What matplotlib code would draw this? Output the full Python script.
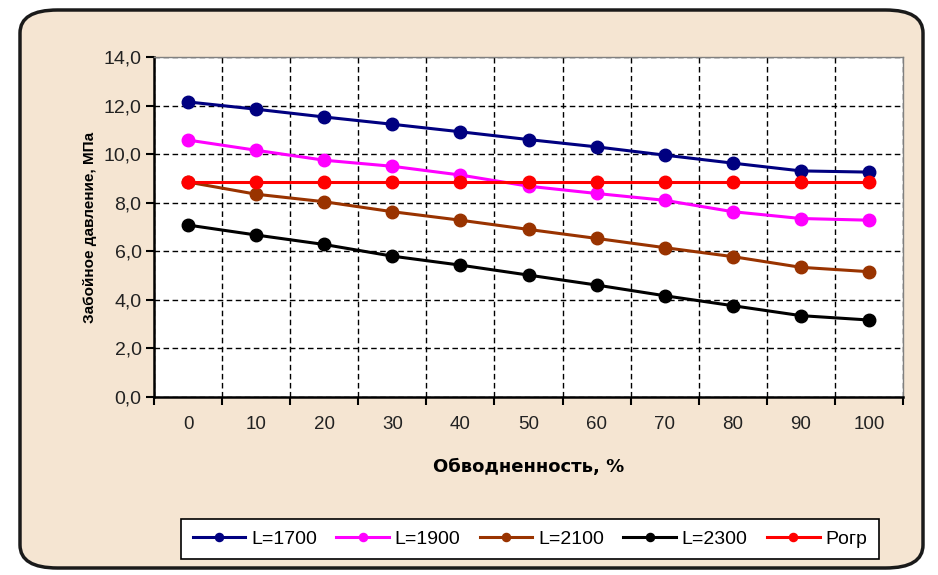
import matplotlib.pyplot as plt
from matplotlib.patches import FancyBboxPatch
from matplotlib.ticker import FuncFormatter

# water cut, % (category axis)
water_cut = [0, 10, 20, 30, 40, 50, 60, 70, 80, 90, 100]

# bottom-hole pressure, MPa
p_1700 = [12.15, 11.85, 11.53, 11.23, 10.92, 10.6, 10.3, 9.96, 9.63, 9.31, 9.26]
p_1900 = [10.58, 10.16, 9.75, 9.5, 9.14, 8.68, 8.38, 8.1, 7.63, 7.35, 7.28]
p_2100 = [8.85, 8.35, 8.04, 7.63, 7.28, 6.9, 6.53, 6.15, 5.78, 5.34, 5.16]
p_2300 = [7.08, 6.67, 6.28, 5.8, 5.43, 5.02, 4.61, 4.17, 3.76, 3.35, 3.17]
p_org = [8.85] * 11

series = [
    ('L=1700', p_1700, '#000080'),
    ('L=1900', p_1900, '#FF00FF'),
    ('L=2100', p_2100, '#993300'),
    ('L=2300', p_2300, '#000000'),
    ('Pогр', p_org, '#FF0000'),
]

plt.rcParams['font.family'] = ['Liberation Sans', 'DejaVu Sans']

fig = plt.figure(figsize=(9.38, 5.75), dpi=100)
fig.patch.set_facecolor('white')

# rounded beige chart area
bg = FancyBboxPatch((20 / 938, 1 - 568 / 575), 903 / 938, 558 / 575,
                    boxstyle='round,pad=0,rounding_size=0.04',
                    transform=fig.transFigure, facecolor='#F5E5D2',
                    edgecolor='#1a1a1a', linewidth=2.5, zorder=-5)
fig.patches.append(bg)

ax = fig.add_axes([154 / 938, 1 - 397 / 575, (903 - 154) / 938, 340 / 575])
ax.set_facecolor('white')

x = list(range(len(water_cut)))
for name, vals, col in series:
    ax.plot(x, vals, color=col, linewidth=2.2, marker='o', markersize=9,
            label=name, zorder=3)

ax.set_xlim(-0.5, len(water_cut) - 0.5)
ax.set_ylim(0, 14)
ax.set_yticks(range(0, 15, 2))
ax.yaxis.set_major_formatter(FuncFormatter(lambda v, p: f'{v:.1f}'.replace('.', ',')))

ax.set_xticks(x)
ax.set_xticklabels([str(v) for v in water_cut])
ax.set_xticks([i - 0.5 for i in range(len(water_cut) + 1)], minor=True)
ax.tick_params(axis='x', which='major', length=0, pad=14, labelsize=13.5, colors='#222222')
ax.tick_params(axis='x', which='minor', length=6, width=1.5, direction='out')
ax.tick_params(axis='y', length=6, width=1.5, direction='out', labelsize=14, pad=3,
               labelcolor='#222222')

ax.grid(True, which='minor', axis='x', color='black', linestyle=(0, (4, 2.5)), linewidth=1)
ax.grid(True, which='major', axis='y', color='black', linestyle=(0, (4, 2.5)), linewidth=1)
ax.set_axisbelow(True)

for s in ['left', 'bottom']:
    ax.spines[s].set_linewidth(1.8)
    ax.spines[s].set_color('black')
for s in ['top', 'right']:
    ax.spines[s].set_linewidth(1)
    ax.spines[s].set_color('#808080')

ax.set_ylabel('Забойное давление, МПа', fontsize=11, fontweight='bold', labelpad=5)
ax.set_xlabel('Обводненность, %', fontsize=13, fontweight='bold', labelpad=18,
              family=['DejaVu Sans'])

leg = fig.legend(loc='center', bbox_to_anchor=(530 / 938, 1 - 539 / 575), ncol=5,
                 fontsize=14, frameon=True, fancybox=False, handlelength=2.7,
                 handletextpad=0.3, columnspacing=1.0, markerscale=0.65,
                 borderpad=0.6)
leg.get_frame().set_edgecolor('black')
leg.get_frame().set_linewidth(1.2)
leg.get_frame().set_facecolor('white')
leg.get_frame().set_alpha(1)

fig.savefig('out.png', dpi=100)
